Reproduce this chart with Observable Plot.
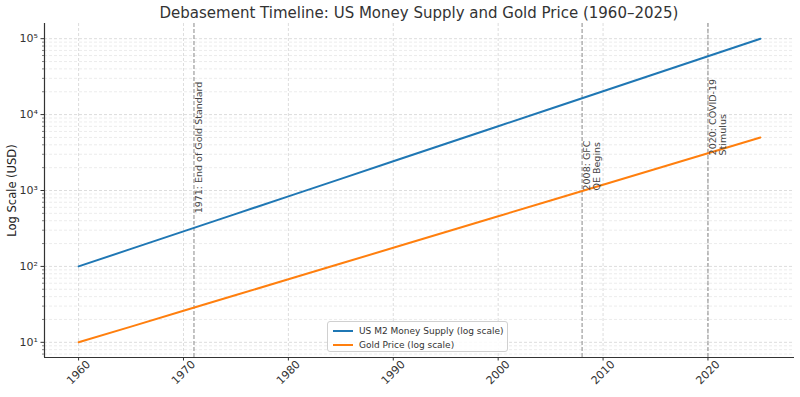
<!DOCTYPE html>
<html>
<head>
<meta charset="utf-8">
<script src="https://cdn.jsdelivr.net/npm/d3@7"></script>
<script src="https://cdn.jsdelivr.net/npm/@observablehq/plot@0.6"></script>
<style>
  body { margin: 0; background: #fff; font-family: "DejaVu Sans", sans-serif; }
  #wrap { position: relative; width: 800px; height: 397px; }
  #title { height: 23px; line-height: 26px; font-size: 15px; color: #333; text-align: center; padding-left: 44px; padding-right: 6px; box-sizing: border-box; width: 800px; white-space: nowrap; }
  #legend { position: absolute; left: 327px; top: 321px; width: 181px; height: 31px; box-sizing: border-box; border: 1px solid #d0d0d0; border-radius: 3px; background: rgba(255,255,255,0.85); font-size: 9px; color: #333; padding: 2px 0 0 5px; }
  .item { display: flex; align-items: center; height: 14px; }
  .sw { width: 20px; height: 2px; margin-right: 6px; }
</style>
</head>
<body>
<div id="wrap">
  <div id="title">Debasement Timeline: US Money Supply and Gold Price (1960–2025)</div>
  <div id="chart"></div>
  <div id="legend"></div>
</div>
<script>
const years = [1960, 1965, 1970, 1975, 1980, 1985, 1990, 1995, 2000, 2005, 2010, 2015, 2020, 2025];
const m2Values = [100, 170, 289, 492, 838, 1425, 2424, 4124, 7017, 11938, 20309, 34551, 58780, 100000];
const goldValues = [10, 16.1, 26, 42, 67.7, 109, 176, 284, 458, 739, 1192, 1923, 3100, 5000];
const seriesNames = ["US M2 Money Supply (log scale)", "Gold Price (log scale)"];
const seriesColors = ["#1f77b4", "#ff7f0e"];
const eventYears = [1971, 2008, 2020];
const eventLabels = ["1971: End of Gold Standard", "2008: GFC\nQE Begins", "2020: COVID-19\nStimulus"];
const eventLabelY = [500, 1000, 2900];
const xTicks = [1960, 1970, 1980, 1990, 2000, 2010, 2020];
const yTicks = [10, 100, 1000, 10000, 100000];
const yMinor = [];
[1, 10, 100, 1000, 10000, 100000].forEach(p => [2,3,4,5,6,7,8,9].forEach(m => { if (m*p < 158000 && m*p > 6.3) yMinor.push(m*p); }));

const rows = [];
years.forEach((yr, i) => {
  rows.push({year: yr, value: m2Values[i], series: seriesNames[0]});
  rows.push({year: yr, value: goldValues[i], series: seriesNames[1]});
});
const events = eventYears.map((yr, i) => ({year: yr, label: eventLabels[i], y: eventLabelY[i]}));

const sup = {"0":"⁰","1":"¹","2":"²","3":"³","4":"⁴","5":"⁵","6":"⁶","7":"⁷","8":"⁸","9":"⁹"};

const chart = Plot.plot({
  width: 800,
  height: 374,
  marginTop: 0,
  marginBottom: 40,
  marginLeft: 44,
  marginRight: 6,
  style: {fontFamily: "DejaVu Sans", background: "transparent"},
  x: {domain: [1956.75, 2028.25]},
  y: {type: "log", domain: [Math.pow(10, 0.8), Math.pow(10, 5.2)]},
  color: {domain: seriesNames, range: seriesColors},
  marks: [
    Plot.gridX(xTicks, {stroke: "#b0b0b0", strokeOpacity: 0.55, strokeDasharray: "3,2", strokeWidth: 0.8}),
    Plot.gridY(yTicks, {stroke: "#b0b0b0", strokeOpacity: 0.55, strokeDasharray: "3,2", strokeWidth: 0.8}),
    Plot.gridY(yMinor, {stroke: "#b0b0b0", strokeOpacity: 0.4, strokeDasharray: "3,2", strokeWidth: 0.6}),
    Plot.ruleX(events, {x: "year", stroke: "#888", strokeDasharray: "4,2", strokeWidth: 1}),
    Plot.line(rows, {x: "year", y: "value", z: "series", stroke: "series", strokeWidth: 2}),
    Plot.text(events, {x: "year", y: "y", text: "label", rotate: -90, textAnchor: "start", lineAnchor: "top", dx: 1, fontSize: 9.5, fill: "#444", lineHeight: 1.05}),
    Plot.axisY({ticks: yTicks, tickFormat: d => "10" + sup[String(Math.round(Math.log10(d)))], tickSize: 3.5, fontSize: 11, fill: "#333", stroke: "#333", tickPadding: 3, label: null}),
    Plot.axisY({ticks: yMinor, tickFormat: () => "", tickSize: 2, stroke: "#333", strokeWidth: 0.6, label: null}),
    Plot.axisX({ticks: xTicks, tickSize: 3.5, tickFormat: () => "", stroke: "#333", label: null}),
    Plot.text(xTicks, {x: d => d, text: d => String(d), frameAnchor: "bottom", rotate: -45, dy: 15, textAnchor: "middle", lineAnchor: "middle", fontSize: 11, fill: "#333"}),
    Plot.text(["Log Scale (USD)"], {frameAnchor: "left", dx: -32, rotate: -90, textAnchor: "middle", lineAnchor: "middle", fontSize: 11.5, fill: "#222"}),
    Plot.ruleX([1956.75], {stroke: "#333", strokeWidth: 1.2}),
    Plot.ruleY([Math.pow(10, 0.8)], {stroke: "#333", strokeWidth: 1.2})
  ]
});
document.getElementById("chart").appendChild(chart);

const legend = document.getElementById("legend");
seriesNames.forEach((n, i) => {
  const it = document.createElement("div");
  it.className = "item";
  it.innerHTML = `<span class="sw" style="background:${seriesColors[i]}"></span><span>${n}</span>`;
  legend.appendChild(it);
});
</script>
</body>
</html>
